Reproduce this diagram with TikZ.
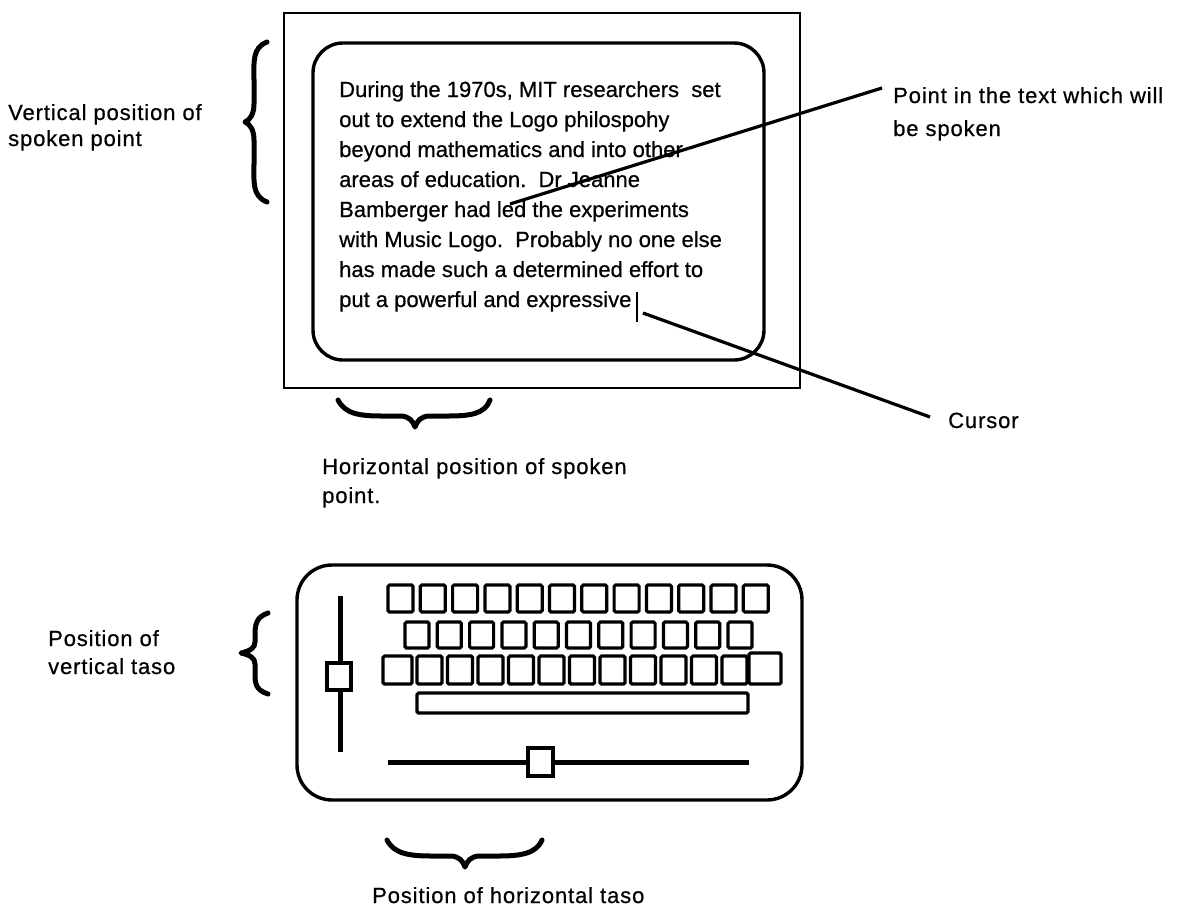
\documentclass[tikz,border=0pt]{standalone}
\usepackage{fontspec}
\setmainfont{Liberation Sans}
\begin{document}
\begin{tikzpicture}[x=1pt,y=-1pt,
  frame/.style={line width=2.6pt},
  screen/.style={line width=3.4pt, rounded corners=30pt},
  pointer/.style={line width=3.2pt},
  brace/.style={line width=5pt, line cap=round, line join=round},
  key/.style={line width=3.2pt, rounded corners=1.5pt, fill=white},
  rail/.style={line width=5pt},
  knob/.style={line width=3.2pt, fill=white},
  body/.style={anchor=base west, inner sep=0pt, font=\fontsize{22}{26}\selectfont\addfontfeatures{FakeBold=0.6}},
  label/.style={anchor=base west, inner sep=0pt, font=\fontsize{22}{26}\selectfont\addfontfeatures{LetterSpace=4,FakeBold=0.6}}
]
\useasboundingbox (0,0) rectangle (1181,922);
\fill[white] (0,0) rectangle (1181,922);

% monitor
\draw[frame] (284,13) rectangle (800,388);
\draw[screen] (313,43) rectangle (764,360);

\foreach \t [count=\i] in {{During the 1970s, MIT researchers \ set},
  {out to extend the Logo philospohy},
  {beyond mathematics and into other},
  {areas of education.\ \ Dr Jeanne},
  {Bamberger had led the experiments},
  {with Music Logo.\ \ Probably no one else},
  {has made such a determined effort to},
  {put a powerful and expressive}}
  \node[body] (t\i) at (339,{97+30*(\i-1)}) {\t};

% cursor
\coordinate (cT) at (637,292);
\coordinate (cB) at (637,322);
\draw[line width=2.4pt] (cT) -- (cB);
\coordinate (cS) at (643,313);

% labels
\node[label] (vpos) at (8,120) {Vertical position of};
\node[label] (vpos2) at (8,146) {spoken point};
\node[label] (pt) at (893,103) {Point in the text which will};
\node[label] (pt2) at (893,136) {be spoken};
\node[label] (cur) at (948,428) {Cursor};
\node[label] (hpos) at (322,474) {Horizontal position of spoken};
\node[label] (hpos2) at (322,503) {point.};

\coordinate (p1) at (510,204);
\coordinate (p1e) at (882,88);
\coordinate (c1e) at (930,417);
\draw[pointer] (p1) -- (p1e);
\draw[pointer] (cS) -- (c1e);

% braces
\draw[brace] (267,42) .. controls (252,48) and (254,62) .. (254,80) -- (254,104)
  .. controls (254,114) and (250,120) .. (245,122)
  .. controls (250,124) and (254,130) .. (254,140) -- (254,164)
  .. controls (254,182) and (252,196) .. (267,202);
\draw[brace] (338,400) .. controls (345,414) and (360,416) .. (382,416) -- (400,416)
  .. controls (409,416) and (413,421) .. (415,427)
  .. controls (417,421) and (421,416) .. (430,416) -- (448,416)
  .. controls (470,416) and (485,414) .. (490,400);

% keyboard
\draw[screen, rounded corners=35pt] (297,565) rectangle (802,800);
\foreach \i in {0,...,11}
  \draw[key] ({388+32.3*\i},585) rectangle ++(25,27);
\foreach \i in {0,...,10}
  \draw[key] ({405+32.3*\i},622) rectangle ++(24,26);
\draw[key] (383,656) rectangle (412,684);
\foreach \i in {1,...,11}
  \draw[key] ({417+30.5*(\i-1)},656) rectangle ++(25,28);
\draw[key] (749,653) rectangle (781,684);
\draw[key] (417,693) rectangle (748,713);

\draw[rail] (340,596) -- (340,752);
\draw[knob] (327,663) rectangle (351,690);
\draw[rail] (388,762) -- (749,762);
\draw[knob] (528,748) rectangle (553,776);

\node[label] (vt) at (48,646) {Position of};
\node[label] (vt2) at (48,674) {vertical taso};
\draw[brace] (268,613) .. controls (256,617) and (255,625) .. (255,635) -- (255,642)
  .. controls (255,648) and (250,651) .. (241,653)
  .. controls (250,655) and (255,658) .. (255,664) -- (255,674)
  .. controls (255,684) and (256,690) .. (268,694);

\draw[brace] (387,840) .. controls (394,854) and (410,856) .. (432,856) -- (450,856)
  .. controls (459,856) and (463,861) .. (465,867)
  .. controls (467,861) and (471,856) .. (480,856) -- (498,856)
  .. controls (520,856) and (536,854) .. (542,840);
\node[label] (ht) at (372,903) {Position of horizontal taso};
\end{tikzpicture}
\end{document}
